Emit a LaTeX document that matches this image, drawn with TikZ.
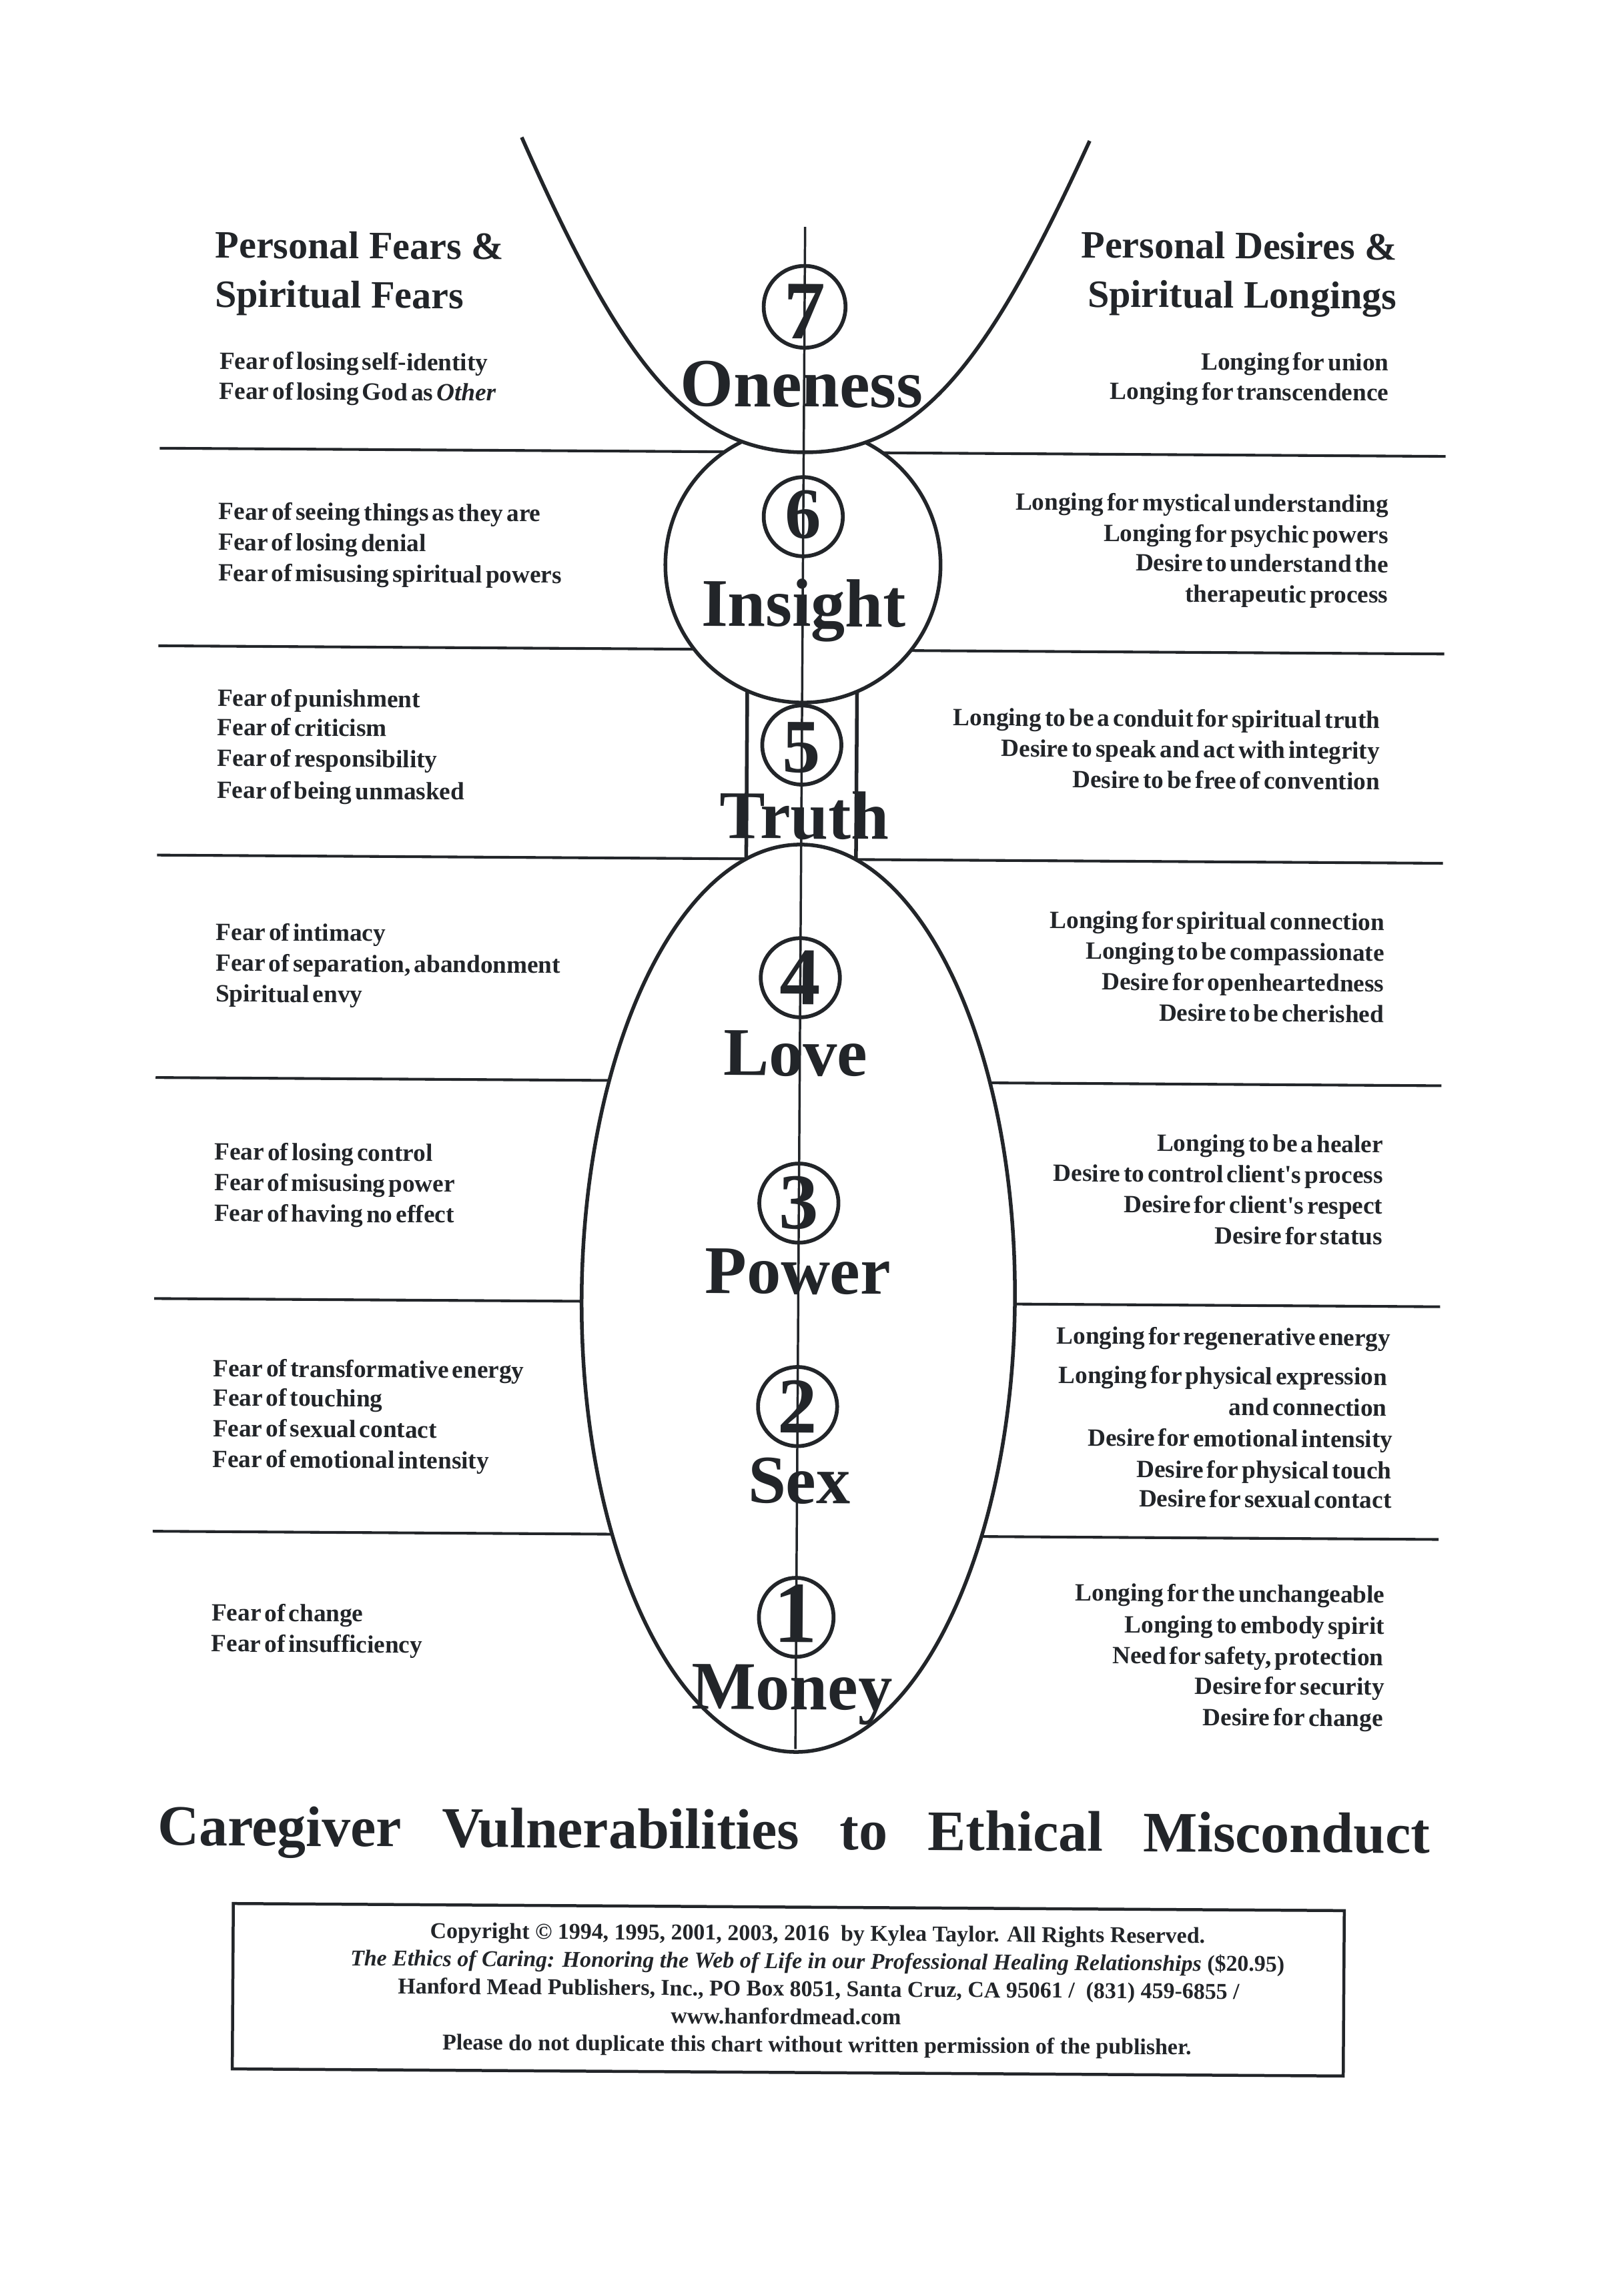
\documentclass[tikz,border=0pt]{standalone}
\usepackage{fontspec}
\setmainfont{Liberation Serif}
\newfontfamily\bodyfont{Liberation Serif}[WordSpace=0.55]
\definecolor{inkc}{RGB}{34,37,41}
\begin{document}
\begin{tikzpicture}[x=0.5366pt,y=-0.5366pt,
  sepline/.style={draw=inkc, line width=1pt},
  outline/.style={draw=inkc, line width=1.35pt},
  numc/.style={circle, draw=inkc, line width=1.4pt, minimum size=29pt, inner sep=0pt},
  digit/.style={font=\bfseries\fontsize{#1}{30}\selectfont, text=inkc, inner sep=0pt},
  chakra/.style={font=\bfseries\fontsize{25}{30}\selectfont, text=inkc, anchor=base, inner sep=0pt},
  headL/.style={font=\bfseries\fontsize{14.2}{17}\selectfont, text=inkc, anchor=base west, inner sep=0pt},
  headR/.style={font=\bfseries\fontsize{14.2}{17}\selectfont, text=inkc, anchor=base east, inner sep=0pt},
  bodyL/.style={font=\bodyfont\bfseries\fontsize{9.1}{11}\selectfont, text=inkc, anchor=base west, inner sep=0pt},
  bodyR/.style={font=\bodyfont\bfseries\fontsize{9.1}{11}\selectfont, text=inkc, anchor=base east, inner sep=0pt},
  titletxt/.style={font=\bfseries\fontsize{21}{25}\selectfont, text=inkc, inner sep=0pt, anchor=base west},
  foottxt/.style={font=\bfseries\fontsize{8.3}{10}\selectfont, text=inkc, inner sep=0pt, anchor=base}
]
\useasboundingbox[fill=white] (0,0) rectangle (1109,1568);
\begin{scope}[rotate around={-0.367:(546,784)}, transform shape]

% horizontal separators
\foreach \yy in {309, 444, 587, 739, 890, 1049}
  \draw[sepline] (106,\yy) -- (984.5,\yy);

% white interiors
\fill[white] (546,386) circle (94);
\fill[white] (546,887) ellipse [x radius=148, y radius=310];
\fill[white] (508.5,470) rectangle (583.5,592);

% circle of the sixth centre
\draw[outline] (546,386) circle (94);
% top bowl (7)
\fill[white] (352,95) .. controls (419.5,245) and (466,309) .. (546,309)
   .. controls (626,309) and (672.5,245) .. (740,95) -- cycle;
\draw[outline] (352,95) .. controls (419.5,245) and (466,309) .. (546,309)
   .. controls (626,309) and (672.5,245) .. (740,95);
% truth column
\draw[outline] (508.5,472.2) -- (508.5,587.1);
\draw[outline] (583.5,472.2) -- (583.5,587.1);
% big ellipse
\draw[outline] (546,887) ellipse [x radius=148, y radius=310];
% centre axis
\draw[draw=inkc, line width=0.85pt] (546,155) -- (546,1195);

% numbered circles
\node[numc, minimum size=30pt] (c7) at (546,209.6) {};
\node[numc] (c6) at (546,353) {};
\node[numc] (c5) at (546,509) {};
\node[numc] (c4) at (546,668) {};
\node[numc] (c3) at (546,822) {};
\node[numc] (c2) at (546,961) {};
\draw[draw=inkc, line width=1.4pt] (546,1105) ellipse [x radius=25.5, y radius=27];
\node[digit=30.5] (d7) at (546,213) {7};
\node[digit=26.5] (d6) at (546,351.5) {6};
\node[digit=28] (d5) at (546,511) {5};
\node[digit=30] (d4) at (546,668) {4};
\node[digit=29] (d3) at (546,822) {3};
\node[digit=29] (d2) at (546,961) {2};
\node[digit=32] (d1) at (545.5,1102.5) {1};

% chakra names
\node[chakra] (n7) at (544.5,278) {Oneness};
\node[chakra] (n6) at (546.7,428) {Insight};
\node[chakra] (n5) at (548.2,573) {Truth};
\node[chakra] (n4) at (543.2,735) {Love};
\node[chakra] (n3) at (545.6,884) {Power};
\node[chakra] (n2) at (547.5,1027) {Sex};
\node[chakra] (n1) at (543.4,1168) {Money};

% headings
\node[headL] (hl1) at (142.9,178.7) {Personal Fears \&};
\node[headL] (hl2) at (142.9,212.3) {Spiritual Fears};
\node[headR] (hr1) at (950.8,174.9) {Personal Desires \&};
\node[headR] (hr2) at (950.8,208.5) {Spiritual Longings};

% section 7
\node[bodyL] (l7a) at (146.3,254.7) {Fear of losing self-identity};
\node[bodyL] (l7b) at (146.3,275.3) {Fear of losing God as \textit{Other}};
\node[bodyR] (r7a) at (945.7,250.8) {Longing for union};
\node[bodyR] (r7b) at (945.7,271.4) {Longing for transcendence};
% section 6
\node[bodyL] (l6a) at (146.3,357.5) {Fear of seeing things as they are};
\node[bodyL] (l6b) at (146.3,378.5) {Fear of losing denial};
\node[bodyL] (l6c) at (146.3,399.5) {Fear of misusing spiritual powers};
\node[bodyR] (r6a) at (946.2,347.5) {Longing for mystical understanding};
\node[bodyR] (r6b) at (946.2,368.5) {Longing for psychic powers};
\node[bodyR] (r6c) at (946.2,388.6) {Desire to understand the};
\node[bodyR] (r6d) at (946.2,409.5) {therapeutic process};
% section 5
\node[bodyL] (l5a) at (146.3,485) {Fear of punishment};
\node[bodyL] (l5b) at (146.3,505) {Fear of criticism};
\node[bodyL] (l5c) at (146.3,526) {Fear of responsibility};
\node[bodyL] (l5d) at (146.3,548) {Fear of being unmasked};
\node[bodyR] (r5a) at (941.3,495) {Longing to be a conduit for spiritual truth};
\node[bodyR] (r5b) at (941.3,516) {Desire to speak and act with integrity};
\node[bodyR] (r5c) at (941.3,537) {Desire to be free of convention};
% section 4
\node[bodyL] (l4a) at (146.3,645) {Fear of intimacy};
\node[bodyL] (l4b) at (146.3,666) {Fear of separation, abandonment};
\node[bodyL] (l4c) at (146.3,687) {Spiritual envy};
\node[bodyR] (r4a) at (945.2,633) {Longing for spiritual connection};
\node[bodyR] (r4b) at (945.2,654) {Longing to be compassionate};
\node[bodyR] (r4c) at (945.2,675) {Desire for openheartedness};
\node[bodyR] (r4d) at (945.2,696) {Desire to be cherished};
% section 3
\node[bodyL] (l3a) at (146.3,795) {Fear of losing control};
\node[bodyL] (l3b) at (146.3,816) {Fear of misusing power};
\node[bodyL] (l3c) at (146.3,837) {Fear of having no effect};
\node[bodyR] (r3a) at (945.2,785) {Longing to be a healer};
\node[bodyR] (r3b) at (945.2,806) {Desire to control client's process};
\node[bodyR] (r3c) at (945.2,827) {Desire for client's respect};
\node[bodyR] (r3d) at (945.2,848) {Desire for status};
% section 2
\node[bodyL] (l2a) at (146.3,943) {Fear of transformative energy};
\node[bodyL] (l2b) at (146.3,963) {Fear of touching};
\node[bodyL] (l2c) at (146.3,984) {Fear of sexual contact};
\node[bodyL] (l2d) at (146.3,1005) {Fear of emotional intensity};
\node[bodyR] (r2a) at (951.2,917) {Longing for regenerative energy};
\node[bodyR] (r2b) at (949,943.8) {Longing for physical expression};
\node[bodyR] (r2c) at (949,965) {and connection};
\node[bodyR] (r2d) at (953,986.5) {Desire for emotional intensity};
\node[bodyR] (r2e) at (952.5,1008) {Desire for physical touch};
\node[bodyR] (r2f) at (952.5,1028) {Desire for sexual contact};
% section 1
\node[bodyL] (l1a) at (146.3,1110) {Fear of change};
\node[bodyL] (l1b) at (146.3,1131) {Fear of insufficiency};
\node[bodyR] (r1a) at (948.4,1092.5) {Longing for the unchangeable};
\node[bodyR] (r1b) at (948.4,1114) {Longing to embody spirit};
\node[bodyR] (r1c) at (947.7,1135.3) {Need for safety, protection};
\node[bodyR] (r1d) at (948.4,1155.6) {Desire for security};
\node[bodyR] (r1e) at (947.7,1177) {Desire for change};

% title
\node[titletxt] (title) at (110.4,1263.5) {\makebox[466.3pt][s]{Caregiver Vulnerabilities to Ethical Misconduct}};

% footer box
\draw[draw=inkc, line width=1.1pt] (162.7,1303) rectangle (921.7,1416);
\node[foottxt] (f1) at (562,1325.9) {Copyright \textcopyright\ 1994, 1995, 2001, 2003, 2016\ \ by Kylea Taylor. All Rights Reserved.};
\node[foottxt] (f2) at (562,1344.9) {\textit{The Ethics of Caring: Honoring the Web of Life in our Professional Healing Relationships} (\$20.95)};
\node[foottxt] (f3) at (563,1363.9) {Hanford Mead Publishers, Inc., PO Box 8051, Santa Cruz, CA 95061 /\ \ (831) 459-6855 /};
\node[foottxt] (f4) at (540.7,1383) {www.hanfordmead.com};
\node[foottxt] (f5) at (562,1402) {Please do not duplicate this chart without written permission of the publisher.};
\end{scope}
\end{tikzpicture}
\end{document}
